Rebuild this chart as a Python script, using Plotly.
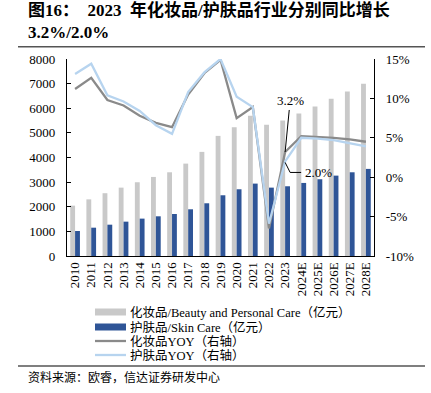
import plotly.graph_objects as go

# ---- data ----
years = ["2010", "2011", "2012", "2013", "2014", "2015", "2016", "2017", "2018", "2019",
         "2020", "2021", "2022", "2023", "2024E", "2025E", "2026E", "2027E", "2028E"]
beauty_value = [2045, 2300, 2550, 2777, 2995, 3211, 3400, 3752, 4228, 4878,
                5230, 5691, 5325, 5500, 5785, 6070, 6382, 6680, 6992]
skin_value = [1016, 1150, 1272, 1395, 1518, 1612, 1707, 1897, 2141, 2466,
              2710, 2940, 2777, 2832, 2967, 3117, 3264, 3400, 3537]
beauty_yoy = [11.2, 12.6, 9.8, 9.1, 7.8, 6.9, 6.35, 10.5, 13.2, 14.9,
              7.5, 8.9, -6.5, 3.2, 5.2, 5.1, 5.0, 4.8, 4.5]
skin_yoy = [13.1, 14.4, 10.4, 9.6, 8.4, 6.6, 5.5, 10.8, 13.3, 15.0,
            10.2, 8.9, -5.9, 2.0, 5.0, 4.9, 4.7, 4.3, 3.9]
series_names = ["化妆品/Beauty and Personal Care（亿元）", "护肤品/Skin Care（亿元）",
                "化妆品YOY（右轴）", "护肤品YOY（右轴）"]
left_ticks = [0, 1000, 2000, 3000, 4000, 5000, 6000, 7000, 8000]
right_ticks = [-10, -5, 0, 5, 10, 15]
right_labels = ["-10%", "-5%", "0%", "5%", "10%", "15%"]
title_text = "<b>图16：  2023  年化妆品/护肤品行业分别同比增长<br>3.2%/2.0%</b>"
source_text = "资料来源：欧睿，信达证券研发中心"

C_GRAY = "#C9C9C9"
C_BLUE = "#2F5597"
C_LGRAY = "#8A8A8A"
C_LBLUE = "#B7D4EF"
FONT = "Liberation Serif, 'Noto Sans CJK SC', serif"

fig = go.Figure()
fig.add_trace(go.Bar(x=years, y=beauty_value, name=series_names[0], marker_color=C_GRAY,
                     marker_line_width=0))
fig.add_trace(go.Bar(x=years, y=skin_value, name=series_names[1], marker_color=C_BLUE,
                     marker_line_width=0))
fig.add_trace(go.Scatter(x=years, y=beauty_yoy, name=series_names[2], yaxis="y2", mode="lines",
                         line=dict(color=C_LGRAY, width=2.3)))
fig.add_trace(go.Scatter(x=years, y=skin_yoy, name=series_names[3], yaxis="y2", mode="lines",
                         line=dict(color=C_LBLUE, width=2.3)))

W, H = 431, 393
L, R, T, B = 67, 57, 59, 137
pw, ph = W - L - R, H - T - B


def px(x):
    return (x - L) / pw


def py(y):
    return (H - B - y) / ph


fig.update_layout(
    width=W, height=H,
    margin=dict(l=L, r=R, t=T, b=B),
    paper_bgcolor="white", plot_bgcolor="white",
    barmode="group", bargap=0.4, bargroupgap=0,
    showlegend=False,
    font=dict(family=FONT, size=13, color="black"),
    xaxis=dict(type="category", categoryorder="array", categoryarray=years,
               range=[-0.5, len(years) - 0.5], autorange=False,
               showline=True, linecolor="black", linewidth=1.2,
               ticks="", tickangle=-90, tickfont=dict(size=13), showgrid=False),
    yaxis=dict(range=[0, 8000], tickvals=left_ticks, showline=True, linecolor="black",
               linewidth=1.2, ticks="inside", ticklen=4, tickcolor="black",
               showgrid=False, zeroline=False, tickfont=dict(size=13),
               ticklabelstandoff=8),
    yaxis2=dict(range=[-10, 15], tickvals=right_ticks, ticktext=right_labels,
                overlaying="y", side="right", showline=True, linecolor="black",
                linewidth=1.2, ticks="inside", ticklen=4, tickcolor="black",
                showgrid=False, zeroline=False, tickfont=dict(size=13),
                ticklabelstandoff=8),
)

# title
fig.add_annotation(x=px(26), y=py(-2), xref="paper", yref="paper", text=title_text,
                   showarrow=False, xanchor="left", yanchor="top", align="left",
                   font=dict(family=FONT, size=17, color="black"))

# annotations for 2023 values
i23 = years.index("2023")
fig.add_annotation(x=i23, y=beauty_yoy[i23], xref="x", yref="y2",
                   text=f"{beauty_yoy[i23]:.1f}%", showarrow=True, arrowhead=0,
                   arrowwidth=1, arrowcolor="black", ax=5, ay=-51, standoff=0,
                   font=dict(size=13))
fig.add_annotation(x=i23, y=skin_yoy[i23], xref="x", yref="y2",
                   text=f"{skin_yoy[i23]:.1f}%", showarrow=False, xshift=33, yshift=-11,
                   font=dict(size=13))
fig.add_shape(type="path", xref="x", yref="y2", xsizemode="pixel", ysizemode="pixel",
              xanchor=i23, yanchor=skin_yoy[i23], path="M 0,-1 L 5,-11 L 16,-11",
              line=dict(color="black", width=1))

# rules
fig.add_shape(type="line", xref="paper", yref="paper", x0=px(18), x1=px(425),
              y0=py(46.7), y1=py(46.7), line=dict(color="#555555", width=1.5))
fig.add_shape(type="line", xref="paper", yref="paper", x0=px(18), x1=px(425),
              y0=py(366), y1=py(366), line=dict(color="#555555", width=1.5))

# custom legend
leg_y = [312, 327, 341, 355]
kinds = [("bar", C_GRAY), ("bar", C_BLUE), ("line", C_LGRAY), ("line", C_LBLUE)]
for (kind, col), yy, name in zip(kinds, leg_y, series_names):
    if kind == "bar":
        fig.add_shape(type="rect", xref="paper", yref="paper", x0=px(95), x1=px(126),
                      y0=py(yy - 3.5), y1=py(yy + 3.5), line=dict(width=0), fillcolor=col)
    else:
        fig.add_shape(type="line", xref="paper", yref="paper", x0=px(95), x1=px(126),
                      y0=py(yy), y1=py(yy), line=dict(color=col, width=2.3))
    fig.add_annotation(x=px(128), y=py(yy), xref="paper", yref="paper", text=name,
                       showarrow=False, xanchor="left", yanchor="middle",
                       font=dict(size=12.5))

fig.add_annotation(x=px(26), y=py(377), xref="paper", yref="paper", text=source_text,
                   showarrow=False, xanchor="left", yanchor="middle",
                   font=dict(size=12))

fig.write_html("out.html", config={"displayModeBar": False},
               post_script="document.body.style.margin='0';document.body.style.overflow='hidden';")
